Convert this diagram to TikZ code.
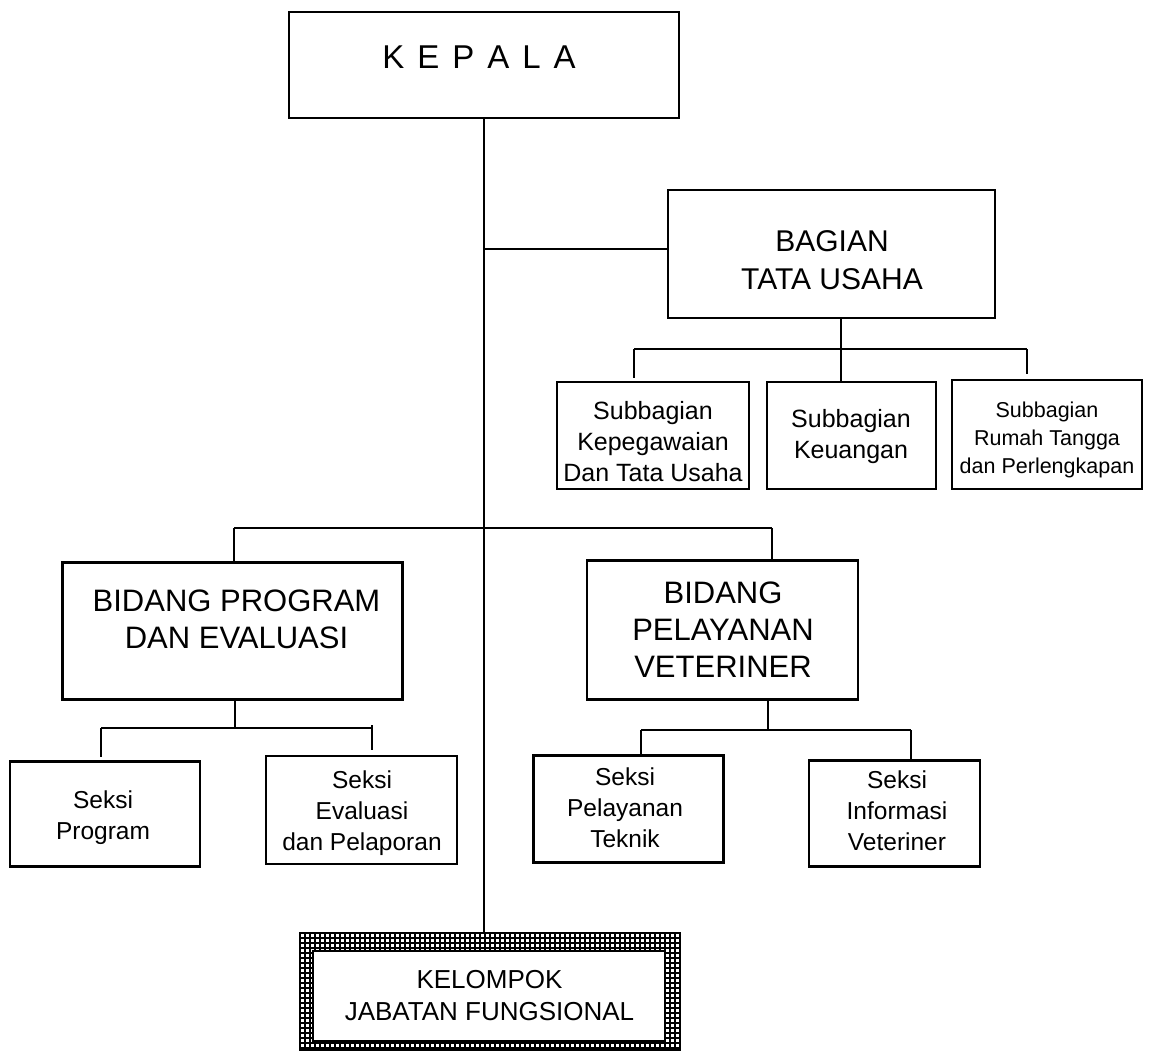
\documentclass[tikz,border=0pt]{standalone}
\usepackage{fontspec}
\setmainfont{Liberation Sans}
\begin{document}
\begin{tikzpicture}[x=1pt,y=-1pt,
  box/.style={draw, line width=2.2pt, inner sep=0pt},
  big/.style={font=\fontsize{30}{38}\selectfont, align=center, inner sep=0pt},
  bid/.style={font=\fontsize{31}{37}\selectfont, align=center, inner sep=0pt},
  mid/.style={font=\fontsize{25}{31}\selectfont, align=center, inner sep=0pt},
  sml/.style={font=\fontsize{24.5}{31}\selectfont, align=center, inner sep=0pt},
  tny/.style={font=\fontsize{21.5}{28}\selectfont, align=center, inner sep=0pt},
  kel/.style={font=\fontsize{26}{32}\selectfont, align=center, inner sep=0pt},
  conn/.style={line width=2pt},
  gridline/.style={line width=1.4pt}
]
\useasboundingbox (0,0) rectangle (1151,1050);
\fill[white] (0,0) rectangle (1151,1050);

% KEPALA
\node[box, minimum width=390pt, minimum height=106pt] (kepala) at (484,65) {};
\node[font=\fontsize{33}{38}\selectfont, inner sep=0pt] (kepalat) at (479,57) {\spaceskip=13pt K E P A L A};

% BAGIAN TATA USAHA
\node[box, minimum width=327pt, minimum height=128pt] (bagian) at (831.5,254) {};
\node[big] (bagiant) at (832,260) {BAGIAN\\TATA USAHA};

% Subbagian
\node[box, minimum width=192pt, minimum height=107pt] (sb1) at (653,435.5) {};
\node[mid] (sb1t) at (653,442) {Subbagian\\Kepegawaian\\Dan Tata Usaha};
\node[box, minimum width=169pt, minimum height=107pt] (sb2) at (851.5,435.5) {};
\node[mid] (sb2t) at (851,437) {Subbagian\\Keuangan};
\node[box, minimum width=190pt, minimum height=109pt] (sb3) at (1047,434.5) {};
\node[tny] (sb3t) at (1047,440) {Subbagian\\Rumah Tangga\\dan Perlengkapan};

% Bidang
\node[box, minimum width=340pt, minimum height=137pt] (bp) at (232.5,631) {};
\node[bid] (bpt) at (236.5,619) {BIDANG PROGRAM\\DAN EVALUASI};
\node[box, minimum width=271pt, minimum height=139pt] (bpv) at (722.5,630) {};
\node[bid] (bpvt) at (723,630) {BIDANG\\PELAYANAN\\VETERINER};

% Seksi
\node[box, minimum width=190pt, minimum height=105pt] (s1) at (105,814) {};
\node[sml] (s1t) at (103,818) {Seksi\\Program};
\node[box, minimum width=191pt, minimum height=108pt] (s2) at (361.5,810) {};
\node[sml] (s2t) at (362,813) {Seksi\\Evaluasi\\dan Pelaporan};
\node[box, minimum width=190pt, minimum height=107pt] (s3) at (628.5,809) {};
\node[sml] (s3t) at (625,808) {Seksi\\Pelayanan\\Teknik};
\node[box, minimum width=171pt, minimum height=106pt] (s4) at (894.5,813.5) {};
\node[sml] (s4t) at (897,811) {Seksi\\Informasi\\Veteriner};

% Kelompok jabatan fungsional (checkered frame)
\node[minimum width=380pt, minimum height=117pt, inner sep=0pt] (kelompok) at (490,991.5) {};
\begin{scope}
  \clip (kelompok.north west) rectangle (kelompok.south east);
  \foreach \x in {300,305,...,685} \draw[gridline] (\x,930) -- (\x,1052);
  \foreach \y in {933,938,...,1052} \draw[gridline] (297,\y) -- (684,\y);
\end{scope}
\draw[line width=1.8pt] (kelompok.north west) rectangle (kelompok.south east);
\node[box, fill=white, minimum width=352pt, minimum height=90pt] (kelin) at (489,996) {};
\node[kel] (kelt) at (489.5,996) {KELOMPOK\\JABATAN FUNGSIONAL};

% Spine
\draw[conn] (kepala.south) -- (kepala.south |- kelompok.north);

% Branch to Bagian
\coordinate (jb) at (484,249);
\draw[conn] (jb) -- (jb -| bagian.west);
\coordinate (ba) at (841,349);
\coordinate (bal) at (634,349);
\coordinate (bar) at (1027,349);
\draw[conn] (bagian.south -| ba) -- (ba);
\draw[conn] (bal) -- (bar);
\draw[conn] (bal) -- ++(0,29);
\draw[conn] (ba) -- (ba |- sb2.north);
\draw[conn] (bar) -- ++(0,25);

% Bidang bus
\coordinate (bl) at (234,528);
\coordinate (br) at (772,528);
\draw[conn] (bl) -- (br);
\draw[conn] (bl) -- (bl |- bp.north);
\draw[conn] (br) -- (br |- bpv.north);

% Program bus
\coordinate (pj) at (235,728);
\coordinate (pl) at (101,728);
\coordinate (pr) at (372,728);
\draw[conn] (bp.south -| pj) -- (pj);
\draw[conn] (pl) -- (pr);
\draw[conn] (pl) -- ++(0,29);
\draw[conn] (pr) ++(0,-3) -- ++(0,25);

% Pelayanan bus
\coordinate (vj) at (768,730);
\coordinate (vl) at (641,730);
\coordinate (vr) at (911,730);
\draw[conn] (bpv.south -| vj) -- (vj);
\draw[conn] (vl) -- (vr);
\draw[conn] (vl) -- (vl |- s3.north);
\draw[conn] (vr) -- (vr |- s4.north);
\end{tikzpicture}
\end{document}
